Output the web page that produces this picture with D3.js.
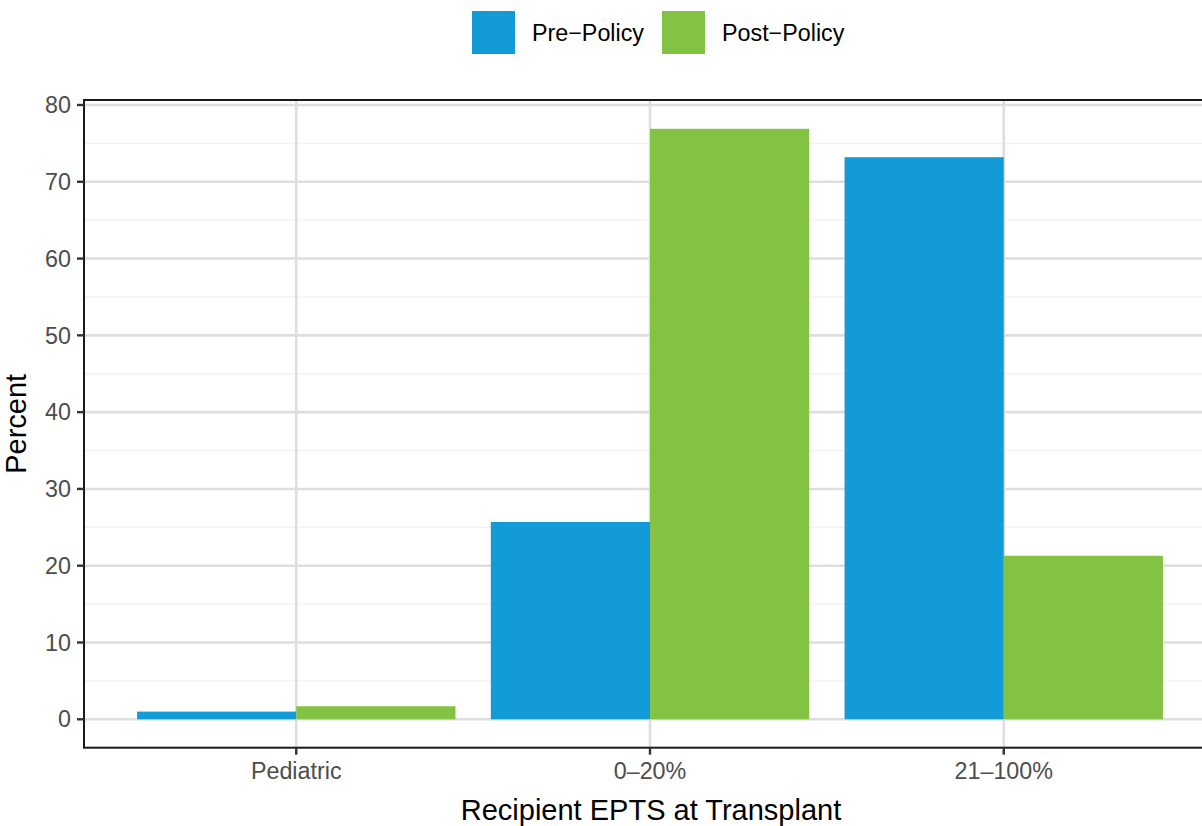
<!DOCTYPE html>
<html>
<head>
<meta charset="utf-8">
<script src="https://cdn.jsdelivr.net/npm/d3@7"></script>
<style>
  body { margin: 0; background: #fff; }
  text { font-family: "Liberation Sans", Arial, sans-serif; }
</style>
</head>
<body>
<div id="chart"></div>
<script>
// data
const categories = ["Pediatric", "0\u201320%", "21\u2013100%"];
const seriesNames = ["Pre\u2212Policy", "Post\u2212Policy"];
const prePolicy = [1.0, 25.7, 73.2];
const postPolicy = [1.7, 76.9, 21.3];
const yTicks = [0, 10, 20, 30, 40, 50, 60, 70, 80];
const yMinorTicks = [5, 15, 25, 35, 45, 55, 65, 75];
const yLimits = [-3.7, 80.65];

const colors = {"Pre\u2212Policy": "#129bd7", "Post\u2212Policy": "#83c243"};

const width = 1202, height = 826;
const panel = {left: 84, top: 100, right: 1216, bottom: 747.7};

const rows = [];
categories.forEach((c, i) => {
    rows.push({cat: c, series: seriesNames[0], value: prePolicy[i]});
    rows.push({cat: c, series: seriesNames[1], value: postPolicy[i]});
});

const svg = d3.select("#chart").append("svg")
    .attr("width", width)
    .attr("height", height);

const x = d3.scaleBand()
    .domain(categories)
    .range([panel.left, panel.right])
    .paddingInner(0.1)
    .paddingOuter(0.15);

const xInner = d3.scaleBand()
    .domain(seriesNames)
    .range([0, x.bandwidth()]);

const y = d3.scaleLinear()
    .domain(yLimits)
    .range([panel.bottom, panel.top]);

svg.append("defs").append("clipPath").attr("id", "clip")
    .append("rect")
    .attr("x", panel.left).attr("y", panel.top)
    .attr("width", panel.right - panel.left)
    .attr("height", panel.bottom - panel.top);

const g = svg.append("g").attr("clip-path", "url(#clip)");

// minor grid
g.selectAll(".minor").data(yMinorTicks).join("line")
    .attr("x1", panel.left).attr("x2", panel.right)
    .attr("y1", d => y(d)).attr("y2", d => y(d))
    .attr("stroke", "#f2f2f2").attr("stroke-width", 1.4);

// major grid
g.selectAll(".major").data(yTicks).join("line")
    .attr("x1", panel.left).attr("x2", panel.right)
    .attr("y1", d => y(d)).attr("y2", d => y(d))
    .attr("stroke", "#dedede").attr("stroke-width", 2.6);

g.selectAll(".vmajor").data(categories).join("line")
    .attr("x1", d => x(d) + x.bandwidth() / 2).attr("x2", d => x(d) + x.bandwidth() / 2)
    .attr("y1", panel.top).attr("y2", panel.bottom)
    .attr("stroke", "#dedede").attr("stroke-width", 2.6);

// bars
g.selectAll("rect.bar").data(rows).join("rect")
    .attr("class", "bar")
    .attr("x", d => x(d.cat) + xInner(d.series))
    .attr("width", xInner.bandwidth())
    .attr("y", d => y(d.value))
    .attr("height", d => y(0) - y(d.value))
    .attr("fill", d => colors[d.series]);

// panel border
svg.append("rect")
    .attr("x", panel.left).attr("y", panel.top)
    .attr("width", panel.right - panel.left)
    .attr("height", panel.bottom - panel.top)
    .attr("fill", "none")
    .attr("stroke", "#1a1a1a")
    .attr("stroke-width", 2);

// y axis
const yAxis = svg.append("g");
yAxis.selectAll("line").data(yTicks).join("line")
    .attr("x1", panel.left - 7).attr("x2", panel.left)
    .attr("y1", d => y(d)).attr("y2", d => y(d))
    .attr("stroke", "#333").attr("stroke-width", 2.4);
yAxis.selectAll("text").data(yTicks).join("text")
    .attr("x", panel.left - 13)
    .attr("y", d => y(d))
    .attr("dy", "0.35em")
    .attr("text-anchor", "end")
    .attr("font-size", 23.3)
    .attr("fill", "#4d4d4d")
    .text(d => d);

// x axis
const xAxis = svg.append("g");
xAxis.selectAll("line").data(categories).join("line")
    .attr("x1", d => x(d) + x.bandwidth() / 2).attr("x2", d => x(d) + x.bandwidth() / 2)
    .attr("y1", panel.bottom).attr("y2", panel.bottom + 7)
    .attr("stroke", "#333").attr("stroke-width", 2.4);
xAxis.selectAll("text").data(categories).join("text")
    .attr("x", d => x(d) + x.bandwidth() / 2)
    .attr("y", 779)
    .attr("text-anchor", "middle")
    .attr("font-size", 23.3)
    .attr("fill", "#4d4d4d")
    .text(d => d);

// axis titles
svg.append("text")
    .attr("x", (panel.left + 1202) / 2 + 8)
    .attr("y", 820)
    .attr("text-anchor", "middle")
    .attr("font-size", 29)
    .attr("fill", "#000")
    .text("Recipient EPTS at Transplant");

svg.append("text")
    .attr("transform", `translate(26, ${(panel.top + panel.bottom) / 2}) rotate(-90)`)
    .attr("text-anchor", "middle")
    .attr("font-size", 29)
    .attr("fill", "#000")
    .text("Percent");

// legend
const legendX = [472, 662];
const legend = svg.append("g");
seriesNames.forEach((s, i) => {
    legend.append("rect")
        .attr("x", legendX[i]).attr("y", 11)
        .attr("width", 43).attr("height", 43)
        .attr("fill", colors[s]);
    legend.append("text")
        .attr("x", legendX[i] + 60)
        .attr("y", 32.5)
        .attr("dy", "0.35em")
        .attr("font-size", 23.3)
        .attr("fill", "#000")
        .text(s);
});
</script>
</body>
</html>
